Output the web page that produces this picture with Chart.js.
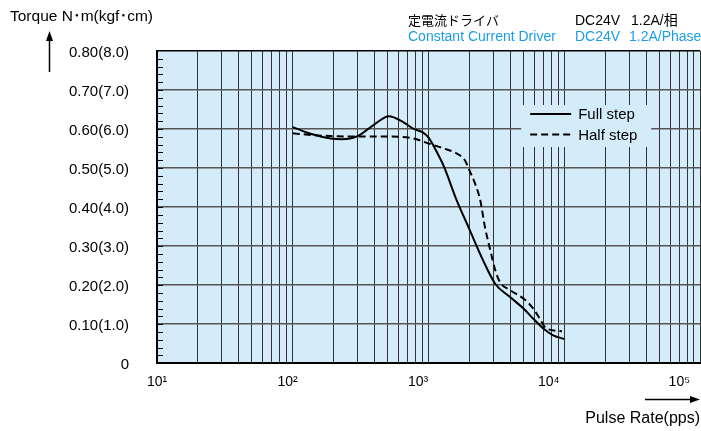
<!DOCTYPE html>
<html lang="ja">
<head>
<meta charset="utf-8">
<title>Pulse Rate - Torque</title>
<script src="https://cdn.jsdelivr.net/npm/chart.js@4.4.1/dist/chart.umd.min.js"></script>
<style>
    html, body { margin: 0; padding: 0; background: #fff; }
    #wrap { width: 701px; height: 431px; }
</style>
</head>
<body>
<div id="wrap"><canvas id="torqueChart" width="701" height="431"></canvas></div>
<script>
// Full step (pps / N·m)
const fullStepRate = [100, 135, 190, 230, 300, 400, 510, 650, 770, 900, 1000, 1150, 1300, 1600, 2000, 2500, 3100, 4000, 5000, 5900, 7000, 8200, 10000];
const fullStepTorque = [0.605, 0.588, 0.576, 0.574, 0.582, 0.612, 0.633, 0.618, 0.601, 0.592, 0.578, 0.541, 0.503, 0.420, 0.343, 0.266, 0.203, 0.169, 0.140, 0.114, 0.089, 0.072, 0.062];

// Half step (pps / N·m)
const halfStepRate = [100, 135, 190, 300, 510, 770, 1000, 1300, 1600, 1850, 2000, 2200, 2400, 2600, 2850, 3100, 3350, 4000, 5100, 5900, 6700, 7300, 9600];
const halfStepTorque = [0.589, 0.585, 0.582, 0.581, 0.581, 0.576, 0.563, 0.550, 0.538, 0.520, 0.494, 0.460, 0.418, 0.349, 0.289, 0.238, 0.208, 0.187, 0.163, 0.140, 0.110, 0.090, 0.082];

const seriesLabels = ['Full step', 'Half step'];
const xTickLabels = ['10¹', '10²', '10³', '10⁴', '10⁵'];
const yTickLabels = ['0', '0.10(1.0)', '0.20(2.0)', '0.30(3.0)', '0.40(4.0)', '0.50(5.0)', '0.60(6.0)', '0.70(7.0)', '0.80(8.0)'];

const FONT = '"Liberation Sans", Arial, Helvetica, sans-serif';
const PLOT_BG = '#d4ecf9';
const BLUE = '#1b9de2';

// grid lines 1..9 x 10^n
function logGridValues() {
    const vals = [];
    for (let e = 1; e <= 4; e++) {
        for (let m = 1; m <= 9; m++) vals.push(m * Math.pow(10, e));
    }
    vals.push(100000);
    return vals;
}

function toPoints(xs, ys) {
    return xs.map((x, i) => ({ x: x, y: ys[i] }));
}

// plot background
const plotBackground = {
    id: 'plotBackground',
    beforeDraw(chart) {
        const { ctx, chartArea: a } = chart;
        ctx.save();
        ctx.fillStyle = PLOT_BG;
        ctx.fillRect(a.left, a.top, a.right - a.left, a.bottom - a.top);
        ctx.restore();
    }
};

// small inward ticks on the y axis
const minorTicks = {
    id: 'minorTicks',
    afterDatasetsDraw(chart) {
        const { ctx, chartArea: a, scales: { y } } = chart;
        ctx.save();
        ctx.strokeStyle = '#000';
        ctx.lineWidth = 1;
        ctx.beginPath();
        for (let i = 1; i < 40; i++) {
            const py = Math.round(y.getPixelForValue(i * 0.02)) + 0.5;
            ctx.moveTo(a.left, py);
            ctx.lineTo(a.left + 6, py);
        }
        ctx.stroke();
        ctx.restore();
    }
};

// legend box inside the plot
const boxLegend = {
    id: 'boxLegend',
    afterDatasetsDraw(chart) {
        const { ctx, chartArea: a } = chart;
        const left = a.right - 179, top = a.top + 54;
        ctx.save();
        ctx.fillStyle = PLOT_BG;
        ctx.fillRect(left, top, 130, 42);
        chart.data.datasets.forEach((ds, i) => {
            const ly = top + 9 + i * 20.5;
            ctx.strokeStyle = ds.borderColor;
            ctx.lineWidth = ds.borderWidth;
            ctx.setLineDash(ds.borderDash || []);
            ctx.beginPath();
            ctx.moveTo(left + 9, ly);
            ctx.lineTo(left + 50, ly);
            ctx.stroke();
            ctx.setLineDash([]);
            ctx.fillStyle = '#000';
            ctx.font = '15px ' + FONT;
            ctx.textBaseline = 'middle';
            ctx.textAlign = 'left';
            ctx.fillText(ds.label, left + 57, ly + 1);
        });
        ctx.restore();
    }
};

function drawArrow(ctx, x1, y1, x2, y2) {
    const ang = Math.atan2(y2 - y1, x2 - x1);
    const len = 10, half = 3.5;
    const bx = x2 - len * Math.cos(ang), by = y2 - len * Math.sin(ang);
    ctx.beginPath();
    ctx.moveTo(x1, y1);
    ctx.lineTo(bx, by);
    ctx.stroke();
    ctx.beginPath();
    ctx.moveTo(x2, y2);
    ctx.lineTo(bx + half * Math.sin(ang), by - half * Math.cos(ang));
    ctx.lineTo(bx - half * Math.sin(ang), by + half * Math.cos(ang));
    ctx.closePath();
    ctx.fill();
}

// axis titles, arrows and driver note
const decorations = {
    id: 'decorations',
    afterDraw(chart) {
        const ctx = chart.ctx;
        ctx.save();
        ctx.fillStyle = '#000';
        ctx.strokeStyle = '#000';
        ctx.lineWidth = 1.5;
        ctx.textBaseline = 'alphabetic';

        ctx.font = '15.5px ' + FONT + ', "Noto Sans CJK JP"';
        ctx.textAlign = 'left';
        ctx.fillText('Torque N･m(kgf･cm)', 10, 21);
        drawArrow(ctx, 49.5, 72, 49.5, 31);

        ctx.font = '16px ' + FONT;
        ctx.textAlign = 'right';
        ctx.fillText('Pulse Rate(pps)', 700, 423);
        drawArrow(ctx, 645, 399.5, 700, 399.5);

        ctx.textAlign = 'left';
        ctx.font = '13px "Noto Sans CJK JP", sans-serif';
        ctx.fillText('定電流ドライバ', 408, 25);
        ctx.font = '14px ' + FONT + ', "Noto Sans CJK JP"';
        ctx.fillText('DC24V', 575, 25);
        ctx.fillText('1.2A/相', 631, 25);

        ctx.fillStyle = BLUE;
        ctx.fillText('Constant Current Driver', 408, 41);
        ctx.fillText('DC24V', 575, 41);
        ctx.fillText('1.2A/Phase', 629, 41);
        ctx.restore();
    }
};

const chart = new Chart(document.getElementById('torqueChart'), {
    type: 'line',
    data: {
        datasets: [{
            label: seriesLabels[0],
            data: toPoints(fullStepRate, fullStepTorque),
            borderColor: '#000',
            borderWidth: 2,
            pointRadius: 0,
            cubicInterpolationMode: 'monotone',
            xAxisID: 'x',
            yAxisID: 'y'
        }, {
            label: seriesLabels[1],
            data: toPoints(halfStepRate, halfStepTorque),
            borderColor: '#000',
            borderWidth: 2,
            borderDash: [7, 4],
            pointRadius: 0,
            cubicInterpolationMode: 'monotone',
            xAxisID: 'x',
            yAxisID: 'y'
        }]
    },
    options: {
        responsive: false,
        animation: false,
        devicePixelRatio: 1,
        layout: { padding: { top: 51, right: 0, bottom: 29, left: 0 } },
        font: { family: FONT },
        plugins: {
            legend: { display: false },
            tooltip: { enabled: false }
        },
        scales: {
            x: {
                type: 'logarithmic',
                position: 'bottom',
                weight: 0,
                min: 10,
                max: 100000,
                afterBuildTicks(scale) {
                    scale.ticks = logGridValues().map(v => ({ value: v }));
                },
                ticks: { display: false, autoSkip: false },
                grid: { drawTicks: false, color: '#333', lineWidth: 1 },
                border: { color: '#000', width: 2 }
            },
            // evenly spaced decade labels under the axis
            xl: {
                type: 'linear',
                position: 'bottom',
                weight: 1,
                min: 0,
                max: 4.16,
                grid: { display: false, drawTicks: false },
                border: { display: false },
                ticks: {
                    stepSize: 1,
                    includeBounds: false,
                    autoSkip: false,
                    maxRotation: 0,
                    padding: 11,
                    color: '#000',
                    font: { family: FONT, size: 14 },
                    callback: (v) => xTickLabels[v] ?? ''
                }
            },
            y: {
                min: 0,
                max: 0.8,
                afterFit(scale) { scale.width = 157; },
                ticks: {
                    stepSize: 0.1,
                    padding: 28,
                    labelOffset: 2,
                    color: '#000',
                    font: { family: FONT, size: 15 },
                    callback: (v, i) => yTickLabels[i]
                },
                grid: {
                    drawTicks: false,
                    color: c => (c.tick && c.tick.value > 0.79) ? '#000' : '#555',
                    lineWidth: 1.5
                },
                border: { color: '#000', width: 2 }
            }
        }
    },
    plugins: [plotBackground, minorTicks, boxLegend, decorations]
});
</script>
</body>
</html>
